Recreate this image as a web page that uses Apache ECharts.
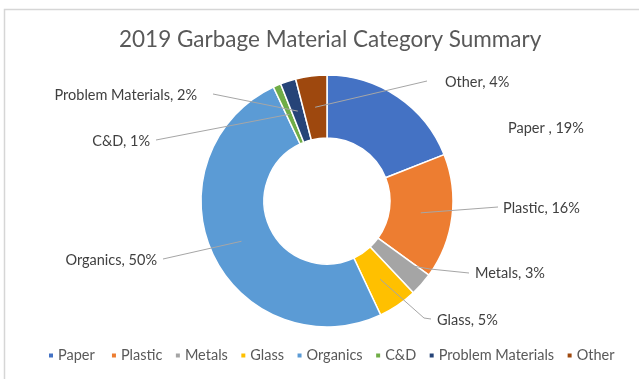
<!DOCTYPE html>
<html>
<head>
<meta charset="utf-8">
<title>2019 Garbage Material Category Summary</title>
<script src="https://cdn.jsdelivr.net/npm/echarts@6/dist/echarts.min.js"></script>
<style>
  html, body { margin: 0; padding: 0; background: #ffffff; }
  #chart { width: 639px; height: 379px; }
</style>
</head>
<body>
<div id="chart"></div>
<script>
// Material categories and their share of collected garbage (percent)
const categories = ['Paper ', 'Plastic', 'Metals', 'Glass', 'Organics', 'C&D', 'Problem Materials', 'Other'];
const shares = [19, 16, 3, 5, 50, 1, 2, 4];
const colors = ['#4472C4', '#ED7D31', '#A5A5A5', '#FFC000', '#5B9BD5', '#70AD47', '#264478', '#9E480E'];

// Ring geometry
const CX = 327, CY = 201, R_IN = 63, R_OUT = 126;
const R_MID = (R_IN + R_OUT) / 2;

// Where each data label sits and where its leader line ends
const labelSpots = [
  { x: 508, y: 128, align: 'left',  end: null },
  { x: 503, y: 208, align: 'left',  end: [[498, 207]] },
  { x: 475, y: 273, align: 'left',  end: [[430, 269], [469, 273]] },
  { x: 437, y: 320, align: 'left',  end: [[424, 318], [431, 319]] },
  { x: 157, y: 260, align: 'right', end: [[163, 259]] },
  { x: 150, y: 141, align: 'right', end: [[156, 140]] },
  { x: 197, y: 95,  align: 'right', end: [[213, 94]] },
  { x: 445, y: 82,  align: 'left',  end: [[427, 81]] }
];

// Point in the middle of the ring at the centre angle of slice i
function sliceMidPoint(i) {
  const total = shares.reduce((a, b) => a + b, 0);
  let before = 0;
  for (let k = 0; k < i; k++) before += shares[k];
  const theta = (before + shares[i] / 2) / total * Math.PI * 2;
  return [CX + R_MID * Math.sin(theta), CY - R_MID * Math.cos(theta)];
}

const chart = echarts.init(document.getElementById('chart'), null, { renderer: 'canvas' });

const FONT = 'Lato';

const ringBase = {
  type: 'pie',
  center: [CX, CY],
  radius: [R_IN, R_OUT],
  startAngle: 90,
  clockwise: true,
  avoidLabelOverlap: false,
  emphasis: { disabled: true }
};

chart.setOption({
  backgroundColor: '#ffffff',
  animation: false,
  color: colors,
  title: {
    text: '2019 Garbage Material Category Summary',
    left: 114,
    top: 23,
    textStyle: { fontFamily: FONT, fontSize: 22.5, fontWeight: 'normal', color: '#595959' }
  },
  legend: {
    bottom: 11,
    left: 42,
    icon: 'rect',
    itemWidth: 6,
    itemHeight: 6,
    itemGap: 11.5,
    data: categories,
    textStyle: { fontFamily: FONT, fontSize: 14.5, color: '#595959', padding: [0, 0, 0, -1] }
  },
  graphic: [{
    type: 'rect',
    shape: { x: 4.5, y: 9.5, width: 700, height: 420 },
    style: { fill: 'none', stroke: '#d6d6d6', lineWidth: 1.5 },
    silent: true,
    z: -1
  }],
  series: [
    // Coloured ring
    Object.assign({}, ringBase, {
      name: 'ring',
      z: 2,
      itemStyle: { borderColor: '#ffffff', borderWidth: 1.5 },
      label: { show: false },
      labelLine: { show: false },
      data: categories.map((name, i) => ({ name: name, value: shares[i] }))
    }),
    // Same slices, transparent, carrying the data labels so leader lines sit on top of the ring
    Object.assign({}, ringBase, {
      name: 'labels',
      z: 3,
      silent: true,
      itemStyle: { color: 'rgba(0,0,0,0)', borderWidth: 0 },
      label: {
        show: true,
        position: 'outside',
        formatter: '{b}, {c}%',
        fontFamily: FONT,
        fontSize: 14.5,
        color: '#404040'
      },
      labelLine: {
        show: true,
        lineStyle: { color: '#a6a6a6', width: 1 }
      },
      labelLayout: function (p) {
        const s = labelSpots[p.dataIndex];
        const out = { x: s.x, y: s.y, align: s.align, verticalAlign: 'middle' };
        if (s.end) out.labelLinePoints = [sliceMidPoint(p.dataIndex)].concat(s.end);
        return out;
      },
      data: categories.map((name, i) => ({
        name: name,
        value: shares[i],
        labelLine: { show: labelSpots[i].end !== null }
      }))
    })
  ]
});
</script>
</body>
</html>
